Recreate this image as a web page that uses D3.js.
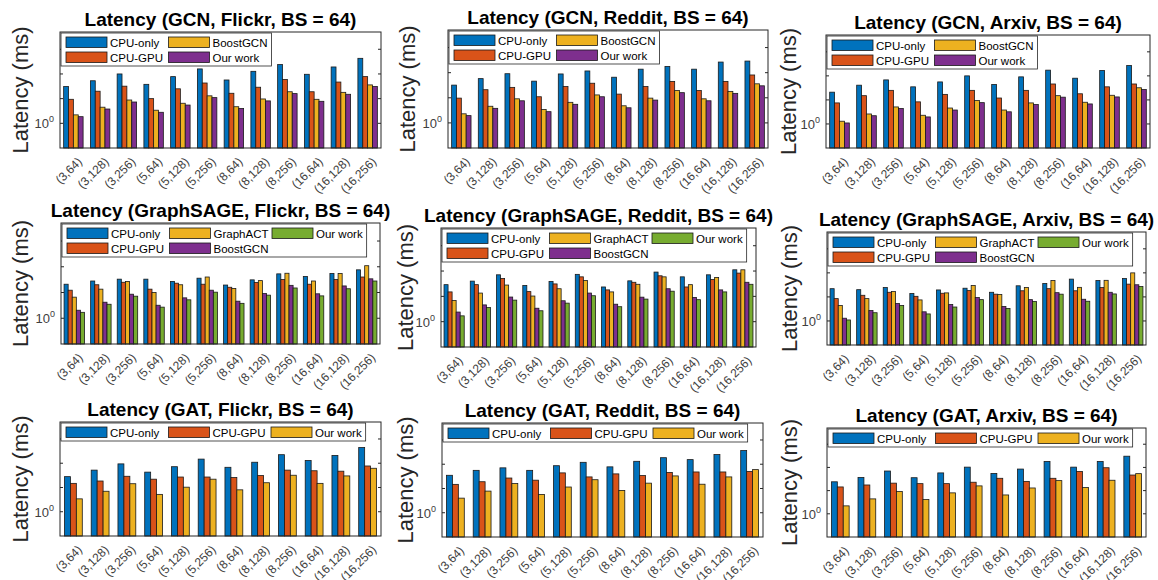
<!DOCTYPE html>
<html>
<head>
<meta charset="utf-8">
<script src="https://cdn.jsdelivr.net/npm/d3@7"></script>
<style>
  body { margin: 0; background: #fff; }
  svg { display: block; font-family: "Liberation Sans", Arial, sans-serif; }
</style>
</head>
<body>
<svg id="chart" width="1158" height="580"></svg>
<script>
// x categories: (layers, hidden dim)
const configs = ['(3,64)', '(3,128)', '(3,256)', '(5,64)', '(5,128)', '(5,256)',
                 '(8,64)', '(8,128)', '(8,256)', '(16,64)', '(16,128)', '(16,256)'];

const gcnSeries = ['CPU-only', 'CPU-GPU', 'BoostGCN', 'Our work'];
const sageSeries = ['CPU-only', 'CPU-GPU', 'GraphACT', 'BoostGCN', 'Our work'];
const gatSeries = ['CPU-only', 'CPU-GPU', 'Our work'];

const blue = '#0072BD', orange = '#D95319', yellow = '#EDB120', purple = '#7E2F8E', green = '#77AC30';
const gcnColors = [blue, orange, yellow, purple];
const sageColors = [blue, orange, yellow, purple, green];
const gatColors = [blue, orange, yellow];

// latency (ms), one array per series
const gcnFlickr = [
  [31, 53, 100, 38, 78, 160, 57, 128, 240, 97, 192, 430],
  [9.4, 20, 32, 10, 25, 43, 16.5, 29, 60, 19, 47, 78],
  [2.2, 4.5, 8.8, 3.4, 6.5, 13, 4.7, 9.7, 19, 9.4, 18, 36],
  [1.86, 3.8, 7.3, 2.8, 5.5, 11, 4.0, 8.1, 16, 7.8, 15, 31]
];
const gcnReddit = [
  [32, 58, 91, 46, 89, 117, 66, 138, 178, 138, 265, 290],
  [9.7, 21, 26, 11, 28, 38, 14, 28, 45, 19.5, 45, 81],
  [2.3, 4.6, 9.1, 3.4, 6.6, 13, 4.8, 9.7, 19.5, 9.1, 18, 36],
  [1.95, 3.8, 7.6, 2.8, 5.5, 11, 4.0, 8.1, 16, 7.6, 15, 30]
];
const gcnArxiv = [
  [21, 41, 68, 35, 56, 100, 44, 91, 173, 80, 167, 270],
  [7.5, 15, 25, 8.3, 17, 25, 12, 25, 46, 18, 35, 46],
  [1.3, 2.6, 5.1, 2.3, 4.6, 9.4, 3.8, 7.5, 15, 8, 15.6, 32],
  [1.1, 2.2, 4.4, 1.96, 3.8, 7.7, 3.2, 6.4, 13, 6.8, 13.3, 27]
];
const sageFlickr = [
  [21, 28, 33, 33, 27, 36, 19.5, 31, 53, 42, 55, 76],
  [12.3, 20, 25, 13.5, 23, 21, 16, 24.5, 32, 21, 32, 40],
  [6.6, 13.5, 27, 10, 20, 40, 14.4, 29, 56, 28, 55, 110],
  [2.05, 4.2, 8.6, 3.2, 6.2, 12.3, 4.6, 9.1, 19, 8.9, 18, 34],
  [1.7, 3.5, 7.2, 2.7, 5.2, 10.3, 3.8, 7.9, 15, 7.4, 14, 28]
];
const sageReddit = [
  [29, 40, 71, 27, 39, 74, 23.5, 41, 91, 59, 71, 112],
  [15, 29, 51, 15.4, 31, 59, 18, 36, 65, 23.5, 46, 83],
  [6.9, 13.5, 28, 10.3, 20, 42, 15, 30, 59, 29, 56, 112],
  [2.4, 4.6, 9.4, 3.4, 6.7, 13.5, 4.9, 9.3, 20, 9.1, 18, 36],
  [1.7, 3.6, 7.1, 2.7, 5.4, 10.6, 3.9, 7.8, 16, 7.4, 15, 30]
];
const sageArxiv = [
  [22, 20, 24.5, 13.8, 19.5, 23, 15.6, 29, 36, 55, 48, 58],
  [8.5, 11.7, 15.6, 10.6, 14.2, 18.3, 13, 18, 22, 18, 24.5, 34],
  [4.4, 8.5, 16.7, 7.5, 14.7, 30, 12.5, 24.5, 48, 25, 49, 100],
  [1.3, 2.7, 5.3, 2.4, 4.8, 9.4, 4.0, 7.7, 15, 8, 15.6, 32],
  [1.1, 2.2, 4.4, 1.96, 3.8, 7.7, 3.3, 6.4, 13, 6.6, 13.3, 27]
];
const gatFlickr = [
  [28, 52, 94, 43, 72, 148, 68, 110, 225, 130, 210, 445],
  [14.8, 18.5, 29, 22, 27, 27, 25.6, 31, 52, 49, 47, 77],
  [3.4, 7, 14.3, 5.2, 10.3, 22, 8, 15.7, 32, 14.8, 30, 62]
];
const gatReddit = [
  [35, 56, 71, 56, 87, 120, 78, 132, 186, 155, 250, 365],
  [14.8, 19, 27, 22, 44, 30, 40, 34, 46, 48, 48, 50],
  [4.0, 7.8, 16, 5.7, 11.5, 23, 8.3, 16.6, 33, 15, 30, 60]
];
const gatArxiv = [
  [24, 37, 70, 36, 58, 103, 55, 85, 180, 103, 180, 305],
  [14.4, 17.5, 21, 20, 20, 23, 34, 25, 34, 67, 97, 47],
  [2.2, 4.4, 9.1, 4.1, 8, 16, 6.5, 13, 27, 13.5, 28, 54]
];

const yDecades = [0.1, 1, 10, 100, 1000];
const yLabeled = [1];

// panel layout: box = [left, top, right, bottom]
const panels = [
  { title: 'Latency (GCN, Flickr, BS = 64)', series: gcnSeries, colors: gcnColors, values: gcnFlickr, box: [60, 32, 381, 148], ylabX: 20 },
  { title: 'Latency (GCN, Reddit, BS = 64)', series: gcnSeries, colors: gcnColors, values: gcnReddit, box: [448, 30, 768, 148], ylabX: 407 },
  { title: 'Latency (GCN, Arxiv, BS = 64)', series: gcnSeries, colors: gcnColors, values: gcnArxiv, box: [826, 35, 1150, 148], ylabX: 788 },
  { title: 'Latency (GraphSAGE, Flickr, BS = 64)', series: sageSeries, colors: sageColors, values: sageFlickr, box: [61, 223, 380, 344], ylabX: 20 },
  { title: 'Latency (GraphSAGE, Reddit, BS = 64)', series: sageSeries, colors: sageColors, values: sageReddit, box: [441, 228, 756, 347], ylabX: 405 },
  { title: 'Latency (GraphSAGE, Arxiv, BS = 64)', series: sageSeries, colors: sageColors, values: sageArxiv, box: [827, 232, 1146, 345], ylabX: 789 },
  { title: 'Latency (GAT, Flickr, BS = 64)', series: gatSeries, colors: gatColors, values: gatFlickr, box: [60, 422, 381, 536], ylabX: 20 },
  { title: 'Latency (GAT, Reddit, BS = 64)', series: gatSeries, colors: gatColors, values: gatReddit, box: [442, 423, 763, 537], ylabX: 405 },
  { title: 'Latency (GAT, Arxiv, BS = 64)', series: gatSeries, colors: gatColors, values: gatArxiv, box: [827, 428, 1146, 537], ylabX: 789 }
];

const svg = d3.select('#chart');

function drawPanel(p) {
  const [x0, y0, x1, y1] = p.box;
  const n = p.series.length;
  const g = svg.append('g');

  const x = d3.scaleBand().domain(configs).range([x0, x1]).padding(0);
  const groupW = x.bandwidth() * n / (n + 1.5);
  const xs = d3.scaleBand().domain(d3.range(n)).range([0, groupW]).padding(0);
  const y = d3.scaleLog().domain([0.1, Math.pow(10, 3.7)]).range([y1, y0]);

  // bars
  p.values.forEach((vals, si) => {
    g.append('g').selectAll('rect').data(vals).join('rect')
      .attr('x', (d, i) => x(configs[i]) + (x.bandwidth() - groupW) / 2 + xs(si))
      .attr('y', d => y(d))
      .attr('width', xs.bandwidth())
      .attr('height', d => y1 - y(d))
      .attr('fill', p.colors[si])
      .attr('stroke', '#1a1a1a')
      .attr('stroke-width', 0.8);
  });

  // box
  g.append('rect')
    .attr('x', x0).attr('y', y0).attr('width', x1 - x0).attr('height', y1 - y0)
    .attr('fill', 'none').attr('stroke', '#262626').attr('stroke-width', 1);

  // y ticks (inward on both sides)
  const tk = yDecades.filter(d => y(d) > y0 + 1 && y(d) < y1 - 1);
  g.append('g').selectAll('line').data(tk).join('line')
    .attr('x1', x0).attr('x2', x0 + 3).attr('y1', d => y(d)).attr('y2', d => y(d))
    .attr('stroke', '#262626');
  g.append('g').selectAll('line').data(tk).join('line')
    .attr('x1', x1).attr('x2', x1 - 3).attr('y1', d => y(d)).attr('y2', d => y(d))
    .attr('stroke', '#262626');
  const yl = g.append('g').selectAll('text').data(yLabeled).join('text')
    .attr('x', x0 - 6).attr('y', d => y(d) + 5)
    .attr('text-anchor', 'end').attr('font-size', 13).attr('fill', '#404040');
  yl.append('tspan').text('10');
  yl.append('tspan').attr('font-size', 9).attr('dy', -6).text(d => Math.round(Math.log10(d)));

  // x tick labels
  g.append('g').selectAll('text').data(configs).join('text')
    .attr('transform', d => `translate(${x(d) + x.bandwidth() / 2 + 3},${y1 + 8}) rotate(-45)`)
    .attr('dy', '0.75em')
    .attr('text-anchor', 'end').attr('font-size', 12).attr('fill', '#404040')
    .text(d => d);

  // title
  g.append('text')
    .attr('x', (x0 + x1) / 2).attr('y', y0 - 6)
    .attr('text-anchor', 'middle').attr('font-size', 19).attr('font-weight', 'bold')
    .attr('fill', '#000').text(p.title);

  // y label
  g.append('text')
    .attr('transform', `translate(${p.ylabX + 8},${(y0 + y1) / 2}) rotate(-90)`)
    .attr('text-anchor', 'middle').attr('font-size', 22).attr('fill', '#262626')
    .text('Latency (ms)');

  // legend (column-major, 2 rows max), box sized to fit its texts
  const rows = n > 3 ? 2 : 1;
  const rowH = 15;
  const legH = rows * rowH + 3;
  const colW = 102.5;
  const lg = g.append('g').attr('transform', `translate(${x0 + 1},${y0 + 1})`);
  const frame = lg.append('rect').attr('height', legH)
    .attr('fill', '#fff').attr('stroke', '#262626').attr('stroke-width', 0.8);
  let right = 0;
  p.series.forEach((s, i) => {
    const c = Math.floor(i / rows), r = i % rows;
    const ox = 5 + c * colW;
    const e = lg.append('g').attr('transform', `translate(${ox},${2 + r * rowH})`);
    e.append('rect').attr('x', 0).attr('y', 2).attr('width', 41).attr('height', 10.5)
      .attr('fill', p.colors[i]).attr('stroke', '#1a1a1a').attr('stroke-width', 0.8);
    const t = e.append('text').attr('x', 44).attr('y', 11.5).attr('font-size', 11.5).attr('fill', '#000').text(s);
    right = Math.max(right, ox + 44 + t.node().getComputedTextLength());
  });
  frame.attr('width', right + 4);
}

panels.forEach(drawPanel);
</script>
</body>
</html>
